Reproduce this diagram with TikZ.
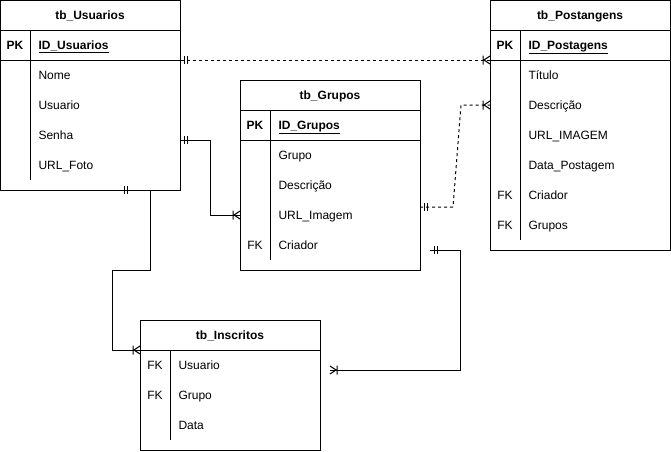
\documentclass[tikz,border=0pt]{standalone}
\usepackage{fontspec}
\setmainfont{Liberation Sans}

% crow's foot ends
\pgfdeclarearrow{
  name = ERum,
  setup code = {
    \pgfarrowssettipend{0pt}
    \pgfarrowssetlineend{0pt}
    \pgfarrowssetbackend{-8pt}
    \pgfarrowshullpoint{0pt}{4pt}
    \pgfarrowshullpoint{0pt}{-4pt}
    \pgfarrowshullpoint{-8pt}{4pt}
    \pgfarrowshullpoint{-8pt}{-4pt}
  },
  drawing code = {
    \pgfsetdash{}{0pt}
    \pgfpathmoveto{\pgfqpoint{-4pt}{4pt}}
    \pgfpathlineto{\pgfqpoint{-4pt}{-4pt}}
    \pgfpathmoveto{\pgfqpoint{-7pt}{4pt}}
    \pgfpathlineto{\pgfqpoint{-7pt}{-4pt}}
    \pgfusepathqstroke
  },
}
\pgfdeclarearrow{
  name = ERmuitos,
  setup code = {
    \pgfarrowssettipend{0pt}
    \pgfarrowssetlineend{0pt}
    \pgfarrowssetbackend{-8pt}
    \pgfarrowshullpoint{0pt}{5pt}
    \pgfarrowshullpoint{0pt}{-5pt}
    \pgfarrowshullpoint{-8pt}{5pt}
    \pgfarrowshullpoint{-8pt}{-5pt}
  },
  drawing code = {
    \pgfsetdash{}{0pt}
    \pgfpathmoveto{\pgfqpoint{0pt}{4pt}}
    \pgfpathlineto{\pgfqpoint{-6pt}{0pt}}
    \pgfpathlineto{\pgfqpoint{0pt}{-4pt}}
    \pgfpathmoveto{\pgfqpoint{-7pt}{4.5pt}}
    \pgfpathlineto{\pgfqpoint{-7pt}{-4.5pt}}
    \pgfusepathqstroke
  },
}

\begin{document}
\begin{tikzpicture}[x=1pt, y=-1pt, line width=1pt,
	tabela/.style = {draw, anchor=north west, minimum width=180pt, inner sep=0pt, outer sep=0pt},
	titulo/.style = {font=\fontsize{12}{14}\selectfont\bfseries, text height=8.6pt, text depth=0pt, inner sep=0pt},
	campo/.style = {anchor=west, font=\fontsize{12}{14}\selectfont, text height=8.6pt, text depth=0pt, inner sep=0pt},
	chave/.style = {campo, anchor=center},
	pk/.style = {campo, font=\fontsize{12}{14}\selectfont\bfseries},
	rel/.style = {{ERum}-{ERmuitos}},
	tracejado/.style = {dash pattern=on 3pt off 3pt}]
	\useasboundingbox (0,0) rectangle (671,451);
	
	% tb_Usuarios
	\node[tabela, minimum height=189.5pt] (usu) at (0.5,0.5) {};
	\draw (0.5,30) -- (180.5,30);
	\draw (0.5,60) -- (180.5,60);
	\draw (30,30) -- (30,180);
	\node[titulo] (usuT) at (90,15) {tb\_Usuarios};
	\node[pk, anchor=center] (usuPK) at (15,45) {PK};
	\node[pk] (usuId) at (38,45) {\underline{ID\_Usuarios}};
	\node[campo] (usuNome) at (38,75) {Nome};
	\node[campo] (usuUsuario) at (38,105) {Usuario};
	\node[campo] (usuSenha) at (38,135) {Senha};
	\node[campo] (usuFoto) at (38,165) {URL\_Foto};
	
	% tb_Postangens
	\node[tabela, minimum height=249.5pt] (post) at (490,0.5) {};
	\draw (490,30) -- (670,30);
	\draw (490,60) -- (670,60);
	\draw (520,30) -- (520,240);
	\node[titulo] (postT) at (580,15) {tb\_Postangens};
	\node[pk, anchor=center] (postPK) at (505,45) {PK};
	\node[pk] (postId) at (528,45) {\underline{ID\_Postagens}};
	\node[campo] (postTitulo) at (528,75) {Título};
	\node[campo] (postDesc) at (528,105) {Descrição};
	\node[campo] (postImg) at (528,135) {URL\_IMAGEM};
	\node[campo] (postData) at (528,165) {Data\_Postagem};
	\node[chave] (postFK1) at (505,195) {FK};
	\node[campo] (postCriador) at (528,195) {Criador};
	\node[chave] (postFK2) at (505,225) {FK};
	\node[campo] (postGrupos) at (528,225) {Grupos};
	
	% tb_Grupos
	\node[tabela, minimum height=190pt] (grp) at (240,80) {};
	\draw (240,110) -- (420,110);
	\draw (240,140) -- (420,140);
	\draw (270,110) -- (270,260);
	\node[titulo] (grpT) at (330,95) {tb\_Grupos};
	\node[pk, anchor=center] (grpPK) at (255,125) {PK};
	\node[pk] (grpId) at (278,125) {\underline{ID\_Grupos}};
	\node[campo] (grpGrupo) at (278,155) {Grupo};
	\node[campo] (grpDesc) at (278,185) {Descrição};
	\node[campo] (grpImg) at (278,215) {URL\_Imagem};
	\node[chave] (grpFK) at (255,245) {FK};
	\node[campo] (grpCriador) at (278,245) {Criador};
	
	% tb_Inscritos
	\node[tabela, minimum height=130pt] (ins) at (140,320) {};
	\draw (140,350) -- (320,350);
	\draw (170,350) -- (170,440);
	\node[titulo] (insT) at (230,335) {tb\_Inscritos};
	\node[chave] (insFK1) at (155,365) {FK};
	\node[campo] (insUsuario) at (178,365) {Usuario};
	\node[chave] (insFK2) at (155,395) {FK};
	\node[campo] (insGrupo) at (178,395) {Grupo};
	\node[campo] (insData) at (178,425) {Data};
	
	% relacoes
	\draw[rel, tracejado] ([yshift=-59.5pt]usu.north east) -- ([yshift=-59.5pt]post.north west);
	\draw[rel] ([yshift=-139.5pt]usu.north east) -- ++(30,0) |- ([yshift=-135pt]grp.north west);
	\draw[rel, tracejado] ([yshift=-127pt]grp.north east) -- ++(33,0) -- ([xshift=-29pt,yshift=-104.5pt]post.north west) -- ([yshift=-104.5pt]post.north west);
	\draw[rel] ([xshift=-60.5pt]usu.south east) -- ++(30,0) -- ++(0,80) -- ++(-38,0) |- ([yshift=-30pt]ins.north west);
	\draw[rel] ([xshift=10pt,yshift=-170pt]grp.north east) -- ++(30,0) |- ([xshift=10pt,yshift=-50pt]ins.north east);
	
\end{tikzpicture}
\end{document}
